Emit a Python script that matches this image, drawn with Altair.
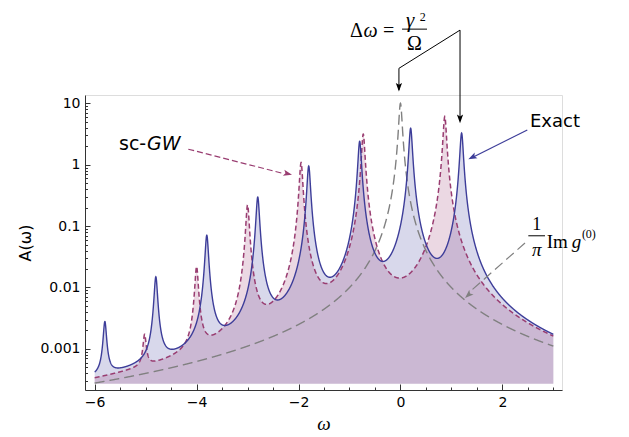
import numpy as np
import pandas as pd
import altair as alt

BLUE = "#3d3d99"
PURPLE = "#993d71"
GRAY = "#808080"
AXIS = "#333333"

# ---- data -----------------------------------------------------------------
# Exact spectral function: peak positions and peak heights
exact_pos = [1.2, 0.2, -0.8, -1.8, -2.8, -3.8, -4.8, -5.8]
exact_amp = [3.27, 3.93, 2.40, 0.95, 0.295, 0.070, 0.0143, 0.0024]
# sc-GW spectral function: peak positions and peak heights
scgw_pos = [0.87, -0.73, -1.95, -3.0, -4.0, -5.02]
scgw_amp = [6.1, 3.15, 1.08, 0.22, 0.021, 0.0012]
# free (1/pi) Im g0: single peak
free_pos = [0.0]
free_amp = [10.0]
peak_halfwidth = 0.0316      # half width of each peak
fill_floor = 0.00027         # lower edge of the filling

x_ticks = [-6, -4, -2, 0, 2]
x_minor = [-5.5, -5, -4.5, -3.5, -3, -2.5, -1.5, -1, -0.5, 0.5, 1, 1.5, 2.5, 3]
y_ticks = [0.001, 0.01, 0.1, 1, 10]
y_minor = [0.0003, 0.0004, 0.0005, 0.0006, 0.0007, 0.0008, 0.0009,
           0.002, 0.003, 0.004, 0.005, 0.006, 0.007, 0.008, 0.009,
           0.02, 0.03, 0.04, 0.05, 0.06, 0.07, 0.08, 0.09,
           0.2, 0.3, 0.4, 0.5, 0.6, 0.7, 0.8, 0.9,
           2, 3, 4, 5, 6, 7, 8, 9]

# ---- curves built from the peaks ------------------------------------------
omega = np.unique(np.round(np.concatenate(
    [np.arange(-6.0, 3.0 + 1e-9, 0.003), exact_pos, scgw_pos, free_pos]), 5))


def peaks_curve(pos, amp):
    e2 = peak_halfwidth ** 2
    out = np.zeros_like(omega)
    for p, a in zip(pos, amp):
        out += a * e2 / ((omega - p) ** 2 + e2)
    return out


df = pd.DataFrame({
    "w": omega,
    "exact": peaks_curve(exact_pos, exact_amp),
    "scgw": peaks_curve(scgw_pos, scgw_amp),
    "free": peaks_curve(free_pos, free_amp),
    "floor": fill_floor,
})

XS = alt.Scale(domain=[-6.19, 3.17], nice=False, zero=False)
YS = alt.Scale(type="log", domain=[0.000214, 13.65], nice=False)
W, H = 477, 295

main_x = alt.Axis(orient="bottom", values=x_ticks, ticks=False, grid=False,
                  domainColor=AXIS, domainWidth=1, labelFont="DejaVu Sans",
                  labelFontSize=14, labelColor="black", labelPadding=5,
                  title="ω", titleFont="Liberation Serif", titleFontStyle="italic",
                  titleFontSize=19, titleFontWeight="normal", titleColor="black",
                  titleY=39, titleBaseline="alphabetic")
main_y = alt.Axis(orient="left", values=y_ticks, format="~g", ticks=False, grid=False,
                  domainColor=AXIS, domainWidth=1, labelFont="DejaVu Sans",
                  labelFontSize=14, labelColor="black", labelPadding=5,
                  title="A(ω)", titleFont="DejaVu Sans", titleFontSize=16,
                  titleFontWeight="normal", titleColor="black",
                  titleX=-60, titleY=H / 2, titleAngle=270,
                  titleAlign="center", titleBaseline="middle")
major_x = alt.Axis(orient="top", offset=-H, values=x_ticks, labels=False,
                   domain=False, ticks=True, tickSize=6, tickColor=AXIS,
                   tickWidth=1, grid=False, title="")
major_y = alt.Axis(orient="right", offset=-W, values=y_ticks, labels=False,
                   domain=False, ticks=True, tickSize=5, tickColor=AXIS,
                   tickWidth=1, grid=False, title="")
minor_x = alt.Axis(orient="top", offset=-H, values=x_minor, labels=False,
                   domain=False, ticks=True, tickSize=3, tickColor=AXIS,
                   tickWidth=1, grid=False, title="")
minor_y = alt.Axis(orient="right", offset=-W, values=y_minor, labels=False,
                   domain=False, ticks=True, tickSize=2.5, tickColor=AXIS,
                   tickWidth=1, grid=False, title="")

base = alt.Chart(df)

area_exact = base.mark_area(color=BLUE, opacity=0.2).encode(
    x=alt.X("w:Q", scale=XS, axis=main_x),
    y=alt.Y("exact:Q", scale=YS, axis=main_y),
    y2="floor:Q")
area_sc = base.mark_area(color=PURPLE, opacity=0.2).encode(
    x=alt.X("w:Q", scale=XS, axis=major_x),
    y=alt.Y("scgw:Q", scale=YS, axis=major_y),
    y2="floor:Q")
line_free = base.mark_line(color=GRAY, strokeDash=[10, 5], strokeWidth=1.4).encode(
    x=alt.X("w:Q", scale=XS, axis=minor_x),
    y=alt.Y("free:Q", scale=YS, axis=minor_y))
line_sc = base.mark_line(color=PURPLE, strokeDash=[5, 3], strokeWidth=1.5).encode(
    x=alt.X("w:Q", scale=XS, axis=None),
    y=alt.Y("scgw:Q", scale=YS, axis=None))
line_exact = base.mark_line(color=BLUE, strokeWidth=1.4).encode(
    x=alt.X("w:Q", scale=XS, axis=None),
    y=alt.Y("exact:Q", scale=YS, axis=None))

# ---- annotations (data coordinates) ---------------------------------------
seg_black = pd.DataFrame({
    "x": [1.169, -0.03, 1.169, 0.031, 2.509],
    "y": [155.6, 37.1, 155.6, 161.4, 0.0695],
    "x2": [-0.03, -0.03, 1.169, 0.521, 2.837],
    "y2": [37.1, 16.5, 5.2, 161.4, 0.0695],
})
seg_blue = pd.DataFrame({"x": [2.489], "y": [3.68], "x2": [1.40], "y2": [1.30]})
seg_purple = pd.DataFrame({"x": [-4.163], "y": [1.787], "x2": [-2.30], "y2": [0.72]})
seg_gray = pd.DataFrame({"x": [2.444], "y": [0.053], "x2": [1.36], "y2": [0.0085]})


def seg_layer(d, color, dash=None, width=1.0):
    kw = dict(color=color, strokeWidth=width)
    if dash:
        kw["strokeDash"] = dash
    return alt.Chart(d).mark_rule(**kw).encode(
        x=alt.X("x:Q", scale=XS, axis=None), y=alt.Y("y:Q", scale=YS, axis=None),
        x2="x2:Q", y2="y2:Q")


ARROW = "M0,0L-0.36,-1L0,-0.78L0.36,-1Z"
heads = pd.DataFrame({
    "x": [-0.03, 1.169, 1.332, -2.128, 1.267],
    "y": [15.5, 4.73, 1.227, 0.683, 0.00675],
    "ang": [0, 0, 63.6, 284, 47.5],
    "col": ["black", "black", BLUE, PURPLE, GRAY],
})
head_layer = alt.Chart(heads).mark_point(shape=ARROW, filled=True, size=300,
                                         opacity=1, strokeWidth=0).encode(
    x=alt.X("x:Q", scale=XS, axis=None), y=alt.Y("y:Q", scale=YS, axis=None),
    angle=alt.Angle("ang:Q", scale=None), color=alt.Color("col:N", scale=None))

labels = [
    # text, x, y, font, style, size, align
    ("Exact", 2.542, 4.07, "DejaVu Sans", "normal", 18, "left"),
    ("sc-", -5.523, 1.74, "DejaVu Sans", "normal", 19, "left"),
    ("GW", -4.973, 1.74, "DejaVu Sans", "italic", 19, "left"),
    ("Δ", -0.990, 121.0, "Liberation Serif", "normal", 20, "left"),
    ("ω", -0.725, 121.0, "Liberation Serif", "italic", 20, "left"),
    ("=", -0.342, 121.0, "Liberation Serif", "normal", 20, "left"),
    ("γ", 0.188, 174.0, "Liberation Serif", "italic", 21, "center"),
    ("2", 0.380, 218.0, "Liberation Serif", "normal", 12, "left"),
    ("Ω", 0.276, 73.6, "Liberation Serif", "normal", 20, "center"),
    ("1", 2.674, 0.0848, "Liberation Serif", "normal", 18, "center"),
    ("π", 2.674, 0.0321, "Liberation Serif", "italic", 19, "center"),
    ("Im", 2.870, 0.0438, "Liberation Serif", "normal", 19, "left"),
    ("g", 3.36, 0.0438, "Liberation Serif", "italic", 19, "left"),
    ("(0)", 3.56, 0.0634, "Liberation Serif", "normal", 12, "left"),
]
lab_df = pd.DataFrame(labels, columns=["t", "x", "y", "font", "style", "fs", "align"])

text_layers = []
for (font, style, fs, align), g in lab_df.groupby(["font", "style", "fs", "align"]):
    text_layers.append(
        alt.Chart(g[["t", "x", "y"]].reset_index(drop=True)).mark_text(
            font=font, fontStyle=style, fontSize=int(fs), align=align,
            baseline="alphabetic", color="black").encode(
            x=alt.X("x:Q", scale=XS, axis=None), y=alt.Y("y:Q", scale=YS, axis=None),
            text="t:N"))

chart = alt.layer(
    area_exact, area_sc, line_free, line_sc, line_exact,
    seg_layer(seg_black, "black", width=1.0),
    seg_layer(seg_blue, BLUE, width=1.2),
    seg_layer(seg_purple, PURPLE, dash=[6, 3], width=1.2),
    seg_layer(seg_gray, GRAY, dash=[10, 5], width=1.2),
    head_layer,
    *text_layers,
).resolve_axis(x="independent", y="independent").properties(
    width=W, height=H,
    autosize=alt.AutoSizeParams(type="none"),
    padding={"left": 77, "top": 87, "right": 59, "bottom": 47},
).configure_view(strokeWidth=0).configure(background="white")

chart.save("out.html", embed_options={"renderer": "svg", "actions": False})
